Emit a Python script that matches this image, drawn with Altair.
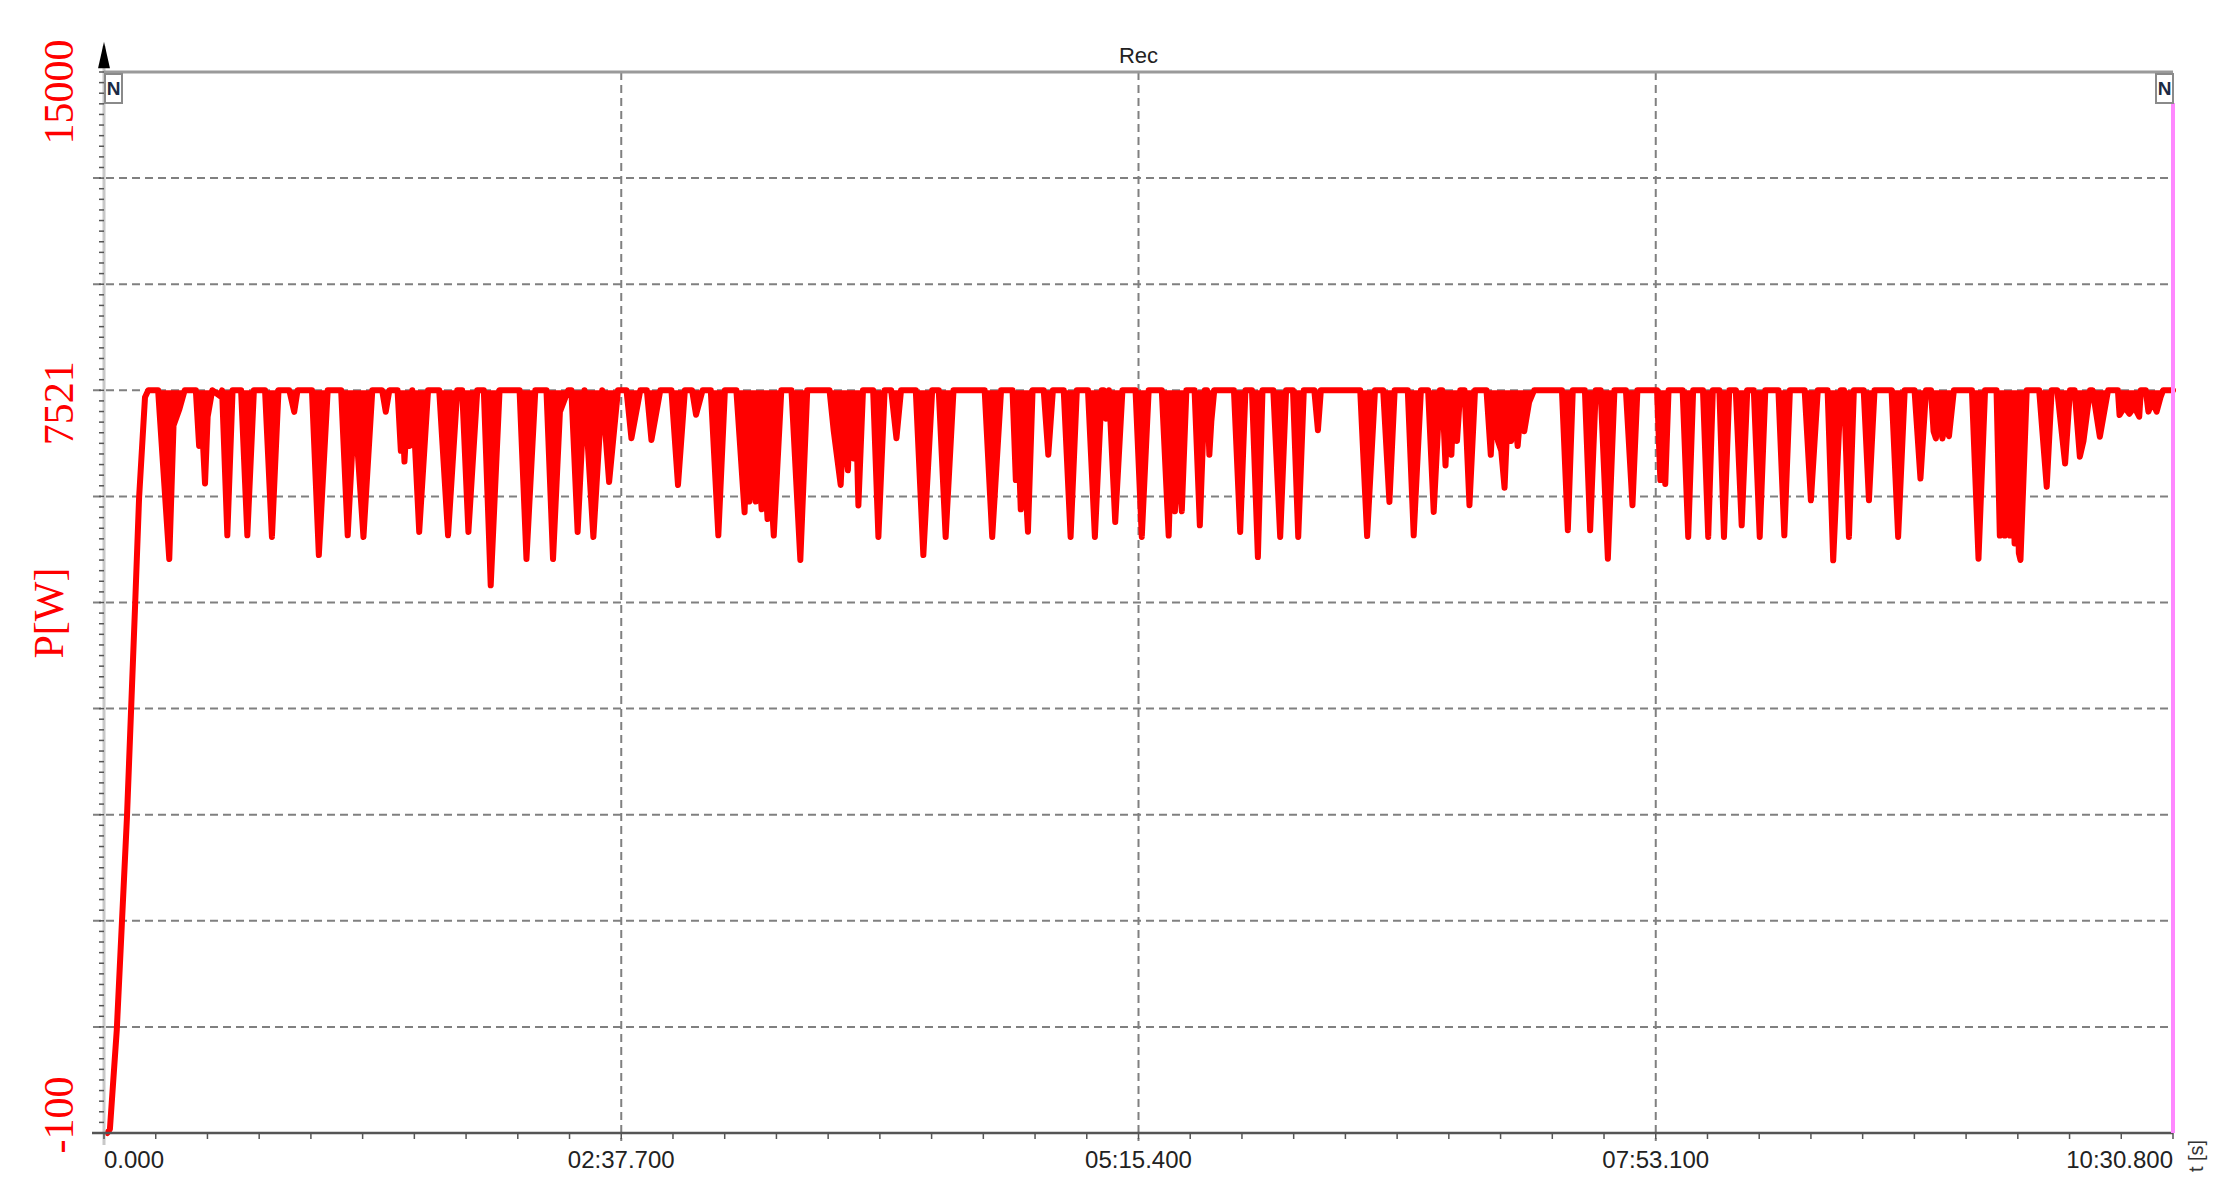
import altair as alt
import pandas as pd

# ---------------- data ----------------
t_s = [
    1.0, 1.8, 3.9, 7.0, 9.5, 10.7, 12.5, 13.5,
    16.5, 19.9, 21.2, 23.0, 24.6, 28.0,
    29.0, 29.6, 30.8, 31.6, 33.0,
    35.5, 36.0,
    37.6, 39.2, 41.8,
    43.7, 45.7, 49.1,
    51.2, 53.2, 56.5,
    58.0, 59.0, 63.4,
    65.5, 68.2, 72.3,
    74.3, 76.4, 79.1, 81.8,
    84.8, 85.9, 87.0, 89.5,
    90.5, 91.0, 91.6, 92.3, 93.2, 94.0,
    96.1, 98.8, 102.2,
    104.9, 107.7, 109.2,
    111.1, 113.8, 115.8,
    117.9, 120.6, 126.7,
    128.8, 131.5, 134.9,
    136.9, 139.0, 141.5, 142.5,
    144.4, 146.5, 149.2, 151.9, 154.0, 156.7, 159.3,
    160.8, 163.5, 165.5, 166.9, 169.6, 173.0,
    175.0, 177.1, 179.3, 180.5, 182.5, 185.0,
    187.3, 189.3, 192.8,
    195.3, 196.0, 196.8, 197.5, 198.7, 199.5, 200.5, 201.3, 202.3, 203.0, 204.2, 206.5, 209.6,
    212.3, 214.4, 221.2,
    222.5, 224.6, 225.5, 226.8, 227.5, 228.5, 229.2, 230.0, 231.4, 234.5,
    236.1, 238.0, 240.0, 241.6, 243.0, 247.5,
    249.8, 252.5, 254.5,
    256.6, 259.0, 268.5,
    270.8, 273.5, 277.0,
    278.0, 278.6, 279.5, 280.2, 281.7, 283.1, 286.5,
    287.9, 289.3, 292.6,
    294.7, 296.6, 300.0,
    302.1, 304.2, 304.8, 305.5, 306.4,
    308.3, 310.5, 314.5,
    316.4, 318.5, 322.5,
    324.6, 325.5, 326.5, 327.5, 328.6, 330.0, 332.5,
    334.1, 335.6, 336.3, 337.0, 337.6, 338.5, 344.5,
    346.4, 348.0, 350.0,
    351.8, 353.2, 356.5,
    358.6, 360.4, 362.5,
    364.1, 365.8, 369.0, 370.1, 371.0, 383.0,
    385.1, 387.5, 390.0,
    391.9, 393.5, 397.5,
    399.3, 401.5, 403.7,
    405.4, 407.3, 408.0,
    409.0, 409.8, 410.8, 411.5, 412.5, 413.5, 414.8,
    416.3, 418.0, 421.5,
    422.8, 423.5, 425.0, 426.0, 427.0, 428.0, 429.0, 430.0, 431.0, 432.0, 433.0, 434.5, 436.0, 444.5,
    446.3, 447.8, 451.5,
    453.1, 454.8, 456.3,
    458.5, 460.5, 464.0,
    466.0, 467.5, 473.5,
    474.5, 475.5, 476.0, 477.0, 481.3,
    483.0, 484.5, 487.5,
    489.1, 490.5, 492.5,
    493.9, 495.5, 497.5,
    499.3, 501.0, 503.0,
    504.8, 506.5, 510.5,
    512.3, 514.0, 518.5,
    520.4, 522.5, 525.5,
    527.2, 529.5, 530.5,
    532.0, 533.5, 536.5,
    538.1, 539.8, 545.0,
    547.0, 549.0, 552.0,
    553.8, 555.5, 557.0,
    557.8, 558.5, 559.5, 560.5, 561.5, 562.5, 564.0, 569.5,
    571.5, 573.5, 577.0,
    578.0, 578.7, 579.5, 580.2, 581.1, 581.8, 582.5, 583.2, 583.8, 584.3, 585.2, 586.2, 590.0,
    592.3, 593.8, 595.5,
    597.9, 599.4, 600.8,
    602.4, 603.5, 605.5, 606.3,
    608.5, 611.0, 614.0,
    614.5, 616.0, 617.5, 619.0, 620.5, 621.0, 622.5,
    623.3, 624.5, 625.8, 627.0, 627.8, 630.8,
]

p_w = [
    -100, -60, 960, 3140, 5330, 6420, 7450, 7521,
    7521, 5790, 7160, 7330, 7521, 7521,
    6950, 7350, 6565, 7250, 7521,
    7460, 7521,
    6033, 7521, 7521,
    6033, 7521, 7521,
    6016, 7521, 7521,
    7300, 7521, 7521,
    5830, 7521, 7521,
    6033, 7370, 6016, 7521,
    7521, 7300, 7521, 7521,
    6900, 7300, 6790, 7200, 6950, 7521,
    6068, 7521, 7521,
    6033, 7521, 7521,
    6068, 7521, 7521,
    5520, 7521, 7521,
    5790, 7521, 7521,
    5790, 7300, 7521, 7521,
    6068, 7521, 6016, 7521, 6580, 7521, 7521,
    7030, 7521, 7521, 7010, 7521, 7521,
    6550, 7521, 7521, 7270, 7521, 7521,
    6033, 7521, 7521,
    6270, 7000, 6380, 6990, 6380, 6820, 6300, 6760, 6200, 6700, 6030, 7521, 7521,
    5780, 7521, 7521,
    7100, 6550, 7200, 6700, 7300, 6820, 7400, 6340, 7521, 7521,
    6016, 7521, 7521, 7030, 7521, 7521,
    5830, 7521, 7521,
    6016, 7521, 7521,
    6016, 7521, 7521,
    6600, 7200, 6300, 7000, 6070, 7521, 7521,
    6860, 7521, 7521,
    6016, 7521, 7521,
    6016, 7521, 7521, 7230, 7521,
    6170, 7521, 7521,
    6016, 7521, 7521,
    6030, 7000, 6280, 6900, 6280, 7521, 7521,
    6136, 7521, 7521, 6860, 7200, 7521, 7521,
    6068, 7521, 7521,
    5810, 7521, 7521,
    6016, 7521, 7521,
    6016, 7521, 7521, 7110, 7521, 7521,
    6025, 7521, 7521,
    6376, 7521, 7521,
    6033, 7521, 7521,
    6273, 7521, 7521,
    6750, 7400, 6860, 7450, 7000, 7521, 7521,
    6342, 7521, 7521,
    6860, 7300, 7000, 6900, 6520, 7300, 7000, 7300, 6950, 7350, 7100, 7400, 7521, 7521,
    6085, 7521, 7521,
    6085, 7521, 7521,
    5793, 7521, 7521,
    6342, 7521, 7521,
    6600, 7300, 6560, 7521, 7521,
    6016, 7521, 7521,
    6016, 7521, 7521,
    6016, 7521, 7521,
    6136, 7521, 7521,
    6016, 7521, 7521,
    6033, 7521, 7521,
    6393, 7521, 7521,
    5776, 7521, 7521,
    6016, 7521, 7521,
    6393, 7521, 7521,
    6016, 7521, 7521,
    6616, 7521, 7521,
    7100, 7027, 7250, 7027, 7200, 7050, 7521, 7521,
    5793, 7521, 7521,
    6030, 7100, 6030, 7130, 6030, 7150, 5950, 6900, 5850, 5780, 6600, 7521, 7521,
    6530, 7521, 7521,
    6770, 7521, 7521,
    6840, 7000, 7521, 7521,
    7045, 7521, 7521,
    7267, 7350, 7280, 7350, 7250, 7521, 7521,
    7302, 7400, 7302, 7450, 7521, 7521,
]

assert len(t_s) == len(p_w), (len(t_s), len(p_w))

x_tick_values = [0.0, 157.7, 315.4, 473.1, 630.8]
x_tick_labels = ["0.000", "02:37.700", "05:15.400", "07:53.100", "10:30.800"]

y_min = -100
p_max = 7521
y_tick_labels = ["-100", "7521", "15000"]

chart_title = "Rec"
y_title = "P[W]"
x_title = "t [s]"

# ---------------- layout ----------------
W, H = 2069, 1061
RED = "#ff0000"
GRID = "#808080"
TICK = "#555555"

y_top = y_min + (p_max - y_min) / 0.7          # 7521 sits on the 7th of 10 grid divisions
y_step = (y_top - y_min) / 10
grid_y = [y_min + k * y_step for k in range(1, 10)]
minor_y = [y_min + k * y_step / 10 for k in range(0, 101)]
x_end = x_tick_values[-1]
minor_x = [k * x_end / 40 for k in range(0, 41)]

xscale = alt.Scale(domain=[0, x_end], nice=False, zero=False)
yscale = alt.Scale(domain=[y_min, y_top], nice=False, zero=False)

df = pd.DataFrame({"t": t_s, "p": p_w})
ramp_end = t_s[p_w.index(p_max)]
one = alt.Data(values=[{}])

# ---------- grid ----------
hgrid = alt.Chart(pd.DataFrame({"v": grid_y})).mark_rule(
    color=GRID, strokeWidth=2, strokeDash=[8, 5]
).encode(
    y=alt.Y("v:Q", scale=yscale, axis=None),
    x=alt.value(-11), x2=alt.value(W),
)
vgrid = alt.Chart(pd.DataFrame({"g": x_tick_values[1:-1]})).mark_rule(
    color=GRID, strokeWidth=2, strokeDash=[8, 5]
).encode(
    x=alt.X("g:Q", scale=xscale, axis=None),
    y=alt.value(0), y2=alt.value(H + 8),
)

# ---------- signal ----------
fill = alt.Chart(df).transform_filter(alt.datum.t >= ramp_end).mark_area(
    color=RED, opacity=1
).encode(
    x=alt.X("t:Q", scale=xscale, axis=None),
    y=alt.Y("p:Q", scale=yscale, axis=None),
    y2=alt.datum(p_max),
)
line = alt.Chart(df).mark_line(
    color=RED, strokeWidth=6, strokeJoin="round", strokeCap="round"
).encode(
    x=alt.X("t:Q", scale=xscale, axis=None),
    y=alt.Y("p:Q", scale=yscale, axis=None),
)

# ---------- axes drawn as marks ----------
y_dom = alt.Chart(one).mark_rule(color="#c8c8c8", strokeWidth=3).encode(
    x=alt.value(0), y=alt.value(-26), y2=alt.value(H + 12)
)
x_dom = alt.Chart(one).mark_rule(color=TICK, strokeWidth=2.5).encode(
    x=alt.value(-12), x2=alt.value(W), y=alt.value(H)
)
y_ticks = alt.Chart(pd.DataFrame({"v": minor_y})).mark_rule(
    color=TICK, strokeWidth=1.5
).encode(
    y=alt.Y("v:Q", scale=yscale, axis=None), x=alt.value(-5), x2=alt.value(0)
)
x_ticks = alt.Chart(pd.DataFrame({"g": minor_x})).mark_rule(
    color=TICK, strokeWidth=1.5
).encode(
    x=alt.X("g:Q", scale=xscale, axis=None), y=alt.value(H), y2=alt.value(H + 6)
)

xlab_df = pd.DataFrame({"t": x_tick_values, "lab": x_tick_labels})


def x_labels(rows, align):
    return alt.Chart(xlab_df.iloc[rows]).mark_text(
        font="Liberation Sans", fontSize=24, color="#222222", align=align, baseline="middle"
    ).encode(
        x=alt.X("t:Q", scale=xscale, axis=None), y=alt.value(H + 28), text="lab:N"
    )


xl_first = x_labels([0], "left")
xl_mid = x_labels(list(range(1, len(x_tick_values) - 1)), "center")
xl_last = x_labels([len(x_tick_values) - 1], "right")

ylab_df = pd.DataFrame({"v": [y_min, p_max, y_top], "lab": y_tick_labels})


def y_label(i, shift_down):
    # rotated text: dx runs along the text, i.e. upward on screen
    return alt.Chart(ylab_df.iloc[[i]]).mark_text(
        font="Liberation Serif", fontSize=42, color=RED, angle=270,
        align="center", baseline="alphabetic", dx=-shift_down
    ).encode(
        y=alt.Y("v:Q", scale=yscale, axis=None), x=alt.value(-31), text="lab:N"
    )


yl0 = y_label(0, -18)
yl1 = y_label(1, 13)
yl2 = y_label(2, 20)

ytitle = alt.Chart(one).mark_text(
    text=y_title, font="Liberation Serif", fontSize=42, color=RED, angle=270,
    align="center", baseline="alphabetic"
).encode(x=alt.value(-41), y=alt.value(541))

xtitle = alt.Chart(one).mark_text(
    text=x_title, font="Liberation Sans", fontSize=20, color="#333333", angle=270,
    align="center", baseline="middle"
).encode(x=alt.value(2093), y=alt.value(1084))

title_txt = alt.Chart(one).mark_text(
    text=chart_title, font="Liberation Sans", fontSize=22, color="#222222",
    align="center", baseline="alphabetic"
).encode(x=alt.value(W / 2), y=alt.value(-9))

top_border = alt.Chart(one).mark_rule(color="#9a9a9a", strokeWidth=3).encode(
    x=alt.value(0), x2=alt.value(W), y=alt.value(0)
)
arrow = alt.Chart(one).mark_point(
    shape="M0,-1L0.45,1L-0.45,1Z", filled=True, color="#000000", size=700, opacity=1
).encode(x=alt.value(0), y=alt.value(-17))

magenta = alt.Chart(one).mark_rule(color="#ff88ff", strokeWidth=4).encode(
    x=alt.value(W), y=alt.value(31), y2=alt.value(H)
)

box_l = alt.Chart(one).mark_rect(fill="white", stroke="#8a8a8a", strokeWidth=2).encode(
    x=alt.value(1), x2=alt.value(18), y=alt.value(2), y2=alt.value(31)
)
box_r = alt.Chart(one).mark_rect(fill="white", stroke="#8a8a8a", strokeWidth=2).encode(
    x=alt.value(W - 17), x2=alt.value(W), y=alt.value(2), y2=alt.value(31)
)
n_l = alt.Chart(one).mark_text(
    text="N", font="Liberation Sans", fontSize=19, fontWeight="bold", color="#1c2a44",
    align="center", baseline="middle"
).encode(x=alt.value(9.5), y=alt.value(17))
n_r = alt.Chart(one).mark_text(
    text="N", font="Liberation Sans", fontSize=19, fontWeight="bold", color="#1c2a44",
    align="center", baseline="middle"
).encode(x=alt.value(W - 8.5), y=alt.value(17))

chart = alt.layer(
    hgrid, vgrid, fill, line,
    y_dom, x_dom, y_ticks, x_ticks, xl_first, xl_mid, xl_last,
    yl0, yl1, yl2, ytitle, xtitle, title_txt,
    top_border, arrow, magenta, box_l, box_r, n_l, n_r
).properties(
    width=W, height=H,
    autosize=alt.AutoSizeParams(type="none"),
    padding={"left": 96, "top": 64, "right": 44, "bottom": 52},
    background="white",
).configure_view(stroke=None)

chart.save("out.html", embed_options={"renderer": "svg", "actions": False})
